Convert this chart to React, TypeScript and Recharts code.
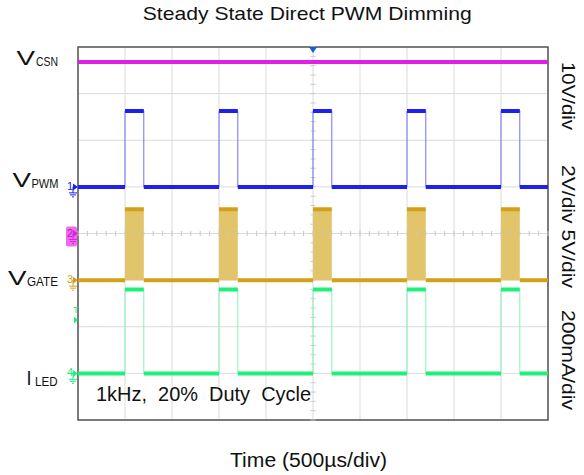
import {
  ComposedChart,
  Line,
  Area,
  XAxis,
  YAxis,
  CartesianGrid,
  ReferenceLine,
  ReferenceDot,
  ReferenceArea,
} from 'recharts'

// time in µs (500µs/div), vertical position in screen divisions (0 = bottom edge)
const timeTicks = [0, 500, 1000, 1500, 2000, 2500, 3000, 3500, 4000, 4500, 5000]
const divTicks = [0, 1, 2, 3, 4, 5, 6, 7, 8]
const pulseStart = [500, 1500, 2500, 3500, 4500]
const pulseEnd = [700, 1700, 2700, 3700, 4700]

const csnLevel = 7.68
const pwmLow = 5.0
const pwmHigh = 6.63
const gateLow = 3.0
const gateHigh = 4.52
const ledLow = 1.0
const ledHigh = 2.8
const triggerLevel = 2.2

const T_END = 5000
const FONT = '"Liberation Sans", Arial, sans-serif'

type Pt = { t: number; v: number | null }

// full waveform incl. the edges
function stepWave(low: number, high: number): Pt[] {
  const pts: Pt[] = [{ t: 0, v: low }]
  pulseStart.forEach((s, i) => {
    pts.push({ t: s, v: low }, { t: s, v: high }, { t: pulseEnd[i], v: high }, { t: pulseEnd[i], v: low })
  })
  pts.push({ t: T_END, v: low })
  return pts
}

// only the flat parts, drawn heavier like the scope persistence
function flatParts(low: number, high: number): Pt[] {
  const pts: Pt[] = []
  let prev = 0
  pulseStart.forEach((s, i) => {
    pts.push(
      { t: prev, v: low },
      { t: s, v: low },
      { t: s, v: null },
      { t: s, v: high },
      { t: pulseEnd[i], v: high },
      { t: pulseEnd[i], v: null },
    )
    prev = pulseEnd[i]
  })
  pts.push({ t: prev, v: low }, { t: T_END, v: low })
  return pts
}

const csnData: Pt[] = [
  { t: 0, v: csnLevel },
  { t: T_END, v: csnLevel },
]

// minor ticks on the centre crosshair (0.2 div)
const minorX: number[] = []
for (let t = 0; t <= T_END; t += 100) minorX.push(t)
const minorY: number[] = []
for (let d = 0; d <= 80; d += 2) minorY.push(d / 10)

const MAGENTA = '#e01ee6'
const BLUE = '#1f1ff0'
const GOLD = '#d4a017'
const GREEN = '#1ef07a'

function ChannelMarker(props: any) {
  const { cx, cy, label, color, boxed } = props
  if (cx == null || cy == null) return null
  return (
    <g>
      {boxed && <rect x={cx - 12} y={cy - 7} width={11} height={20} rx={2} fill="#f06af0" />}
      <text x={cx - 11} y={cy + 3} fontSize={11} fontFamily={FONT} fill={boxed ? '#b020b0' : color}>
        {label}
      </text>
      <path d={`M${cx - 5},${cy - 3.5} L${cx},${cy} L${cx - 5},${cy + 3.5} Z`} fill={color} />
      <line x1={cx - 5} y1={cy} x2={cx - 5} y2={cy + 6} stroke={color} strokeWidth={1} />
      <line x1={cx - 9} y1={cy + 6} x2={cx - 1} y2={cy + 6} stroke={color} strokeWidth={1} />
      <line x1={cx - 8} y1={cy + 8} x2={cx - 2} y2={cy + 8} stroke={color} strokeWidth={1} />
      <line x1={cx - 6} y1={cy + 10} x2={cx - 4} y2={cy + 10} stroke={color} strokeWidth={1} />
    </g>
  )
}

function TriggerLevel(props: any) {
  const { cx, cy } = props
  if (cx == null || cy == null) return null
  return (
    <g>
      <text x={cx - 5} y={cy - 4} fontSize={9} fontFamily={FONT} fill={GREEN}>
        T
      </text>
      <path d={`M${cx - 4},${cy - 1} L${cx},${cy + 2.5} L${cx - 4},${cy + 6} Z`} fill={GREEN} />
    </g>
  )
}

function TriggerPos(props: any) {
  const { cx, cy } = props
  if (cx == null || cy == null) return null
  return <path d={`M${cx - 4},${cy} L${cx + 4},${cy} L${cx},${cy + 6} Z`} fill="#1a5ce0" />
}

function SideLabel({ x, y, main, sub, mainLen, subX, subLen }: any) {
  return (
    <g fontFamily={FONT} fill="#111">
      <text x={x} y={y} fontSize={21} textLength={mainLen} lengthAdjust="spacingAndGlyphs">
        {main}
      </text>
      <text x={subX} y={y + 1} fontSize={12} textLength={subLen} lengthAdjust="spacingAndGlyphs">
        {sub}
      </text>
    </g>
  )
}

export default function App() {
  return (
    <div style={{ position: 'relative', width: 584, height: 475, background: '#fff' }}>
      <style>{'body{margin:0}'}</style>
      <ComposedChart width={584} height={475} margin={{ top: 47, right: 36, bottom: 55, left: 78 }}>
        <XAxis dataKey="t" type="number" domain={[0, T_END]} ticks={timeTicks} hide allowDataOverflow />
        <YAxis type="number" domain={[0, 8]} ticks={divTicks} hide allowDataOverflow />
        <CartesianGrid stroke="#dadada" strokeWidth={1} />
        {minorX.map((t) => (
          <ReferenceLine
            key={'mx' + t}
            segment={[
              { x: t, y: 3.945 },
              { x: t, y: 4.055 },
            ]}
            stroke="#c8c8c8"
          />
        ))}
        {minorY.map((d) => (
          <ReferenceLine
            key={'my' + d}
            segment={[
              { x: 2473, y: d },
              { x: 2527, y: d },
            ]}
            stroke="#c8c8c8"
          />
        ))}
        {pulseStart.map((s, i) => (
          <Area
            key={'gate' + i}
            data={[
              { t: s, r: [gateLow, gateHigh] },
              { t: pulseEnd[i], r: [gateLow, gateHigh] },
            ]}
            dataKey="r"
            type="linear"
            stroke="none"
            fill="#e2c46a"
            fillOpacity={1}
            isAnimationActive={false}
          />
        ))}
        <Line data={csnData} dataKey="v" type="linear" stroke={MAGENTA} strokeWidth={4} dot={false} isAnimationActive={false} />
        <Line data={stepWave(pwmLow, pwmHigh)} dataKey="v" type="linear" stroke="#7070f6" strokeWidth={1} dot={false} isAnimationActive={false} />
        <Line data={flatParts(pwmLow, pwmHigh)} dataKey="v" type="linear" stroke={BLUE} strokeWidth={4} dot={false} isAnimationActive={false} />
        <Line data={flatParts(gateLow, gateHigh)} dataKey="v" type="linear" stroke={GOLD} strokeWidth={4} dot={false} isAnimationActive={false} />
        <Line data={stepWave(ledLow, ledHigh)} dataKey="v" type="linear" stroke="#86f5b4" strokeWidth={1} dot={false} isAnimationActive={false} />
        <Line data={flatParts(ledLow, ledHigh)} dataKey="v" type="linear" stroke={GREEN} strokeWidth={4} dot={false} isAnimationActive={false} />
        <ReferenceArea x1={0} x2={T_END} y1={0} y2={8} fill="none" stroke="#555" strokeWidth={1.5} ifOverflow="visible" />
        <ReferenceDot x={0} y={pwmLow} ifOverflow="visible" shape={(p: any) => <ChannelMarker {...p} label="1" color={BLUE} />} />
        <ReferenceDot x={0} y={4} ifOverflow="visible" shape={(p: any) => <ChannelMarker {...p} label="2" color={MAGENTA} boxed />} />
        <ReferenceDot x={0} y={gateLow} ifOverflow="visible" shape={(p: any) => <ChannelMarker {...p} label="3" color={GOLD} />} />
        <ReferenceDot x={0} y={triggerLevel} ifOverflow="visible" shape={(p: any) => <TriggerLevel {...p} />} />
        <ReferenceDot x={0} y={ledLow} ifOverflow="visible" shape={(p: any) => <ChannelMarker {...p} label="4" color={GREEN} />} />
        <ReferenceDot x={2500} y={8} ifOverflow="visible" shape={(p: any) => <TriggerPos {...p} />} />
      </ComposedChart>
      <svg width={584} height={475} style={{ position: 'absolute', left: 0, top: 0, pointerEvents: 'none' }}>
        <g fontFamily={FONT} fill="#111">
          <text x={142.7} y={20} fontSize={18.6} textLength={329} lengthAdjust="spacingAndGlyphs">
            Steady State Direct PWM Dimming
          </text>
          <text x={230} y={467} fontSize={19.5} textLength={157} lengthAdjust="spacingAndGlyphs">
            Time (500µs/div)
          </text>
          <text x={96} y={400.5} fontSize={20.5} textLength={215} lengthAdjust="spacingAndGlyphs" style={{ whiteSpace: 'pre' }}>
            {'1kHz,  20%  Duty  Cycle'}
          </text>
          <text transform="translate(562,62) rotate(90)" fontSize={18.6} textLength={68} lengthAdjust="spacingAndGlyphs">
            10V/div
          </text>
          <text transform="translate(562,165) rotate(90)" fontSize={18.6} textLength={123} lengthAdjust="spacingAndGlyphs" style={{ whiteSpace: 'pre' }}>
            {'2V/div 5V/div'}
          </text>
          <text transform="translate(562,310) rotate(90)" fontSize={18.6} textLength={100} lengthAdjust="spacingAndGlyphs">
            200mA/div
          </text>
        </g>
        <SideLabel x={16.5} y={65} main="V" mainLen={18.5} sub="CSN" subX={36} subLen={22} />
        <SideLabel x={12.5} y={187} main="V" mainLen={18.5} sub="PWM" subX={31.5} subLen={27} />
        <SideLabel x={8} y={285} main="V" mainLen={18.5} sub="GATE" subX={27} subLen={31} />
        <SideLabel x={26.5} y={385} main="I" mainLen={5} sub="LED" subX={35} subLen={22.5} />
      </svg>
    </div>
  )
}
